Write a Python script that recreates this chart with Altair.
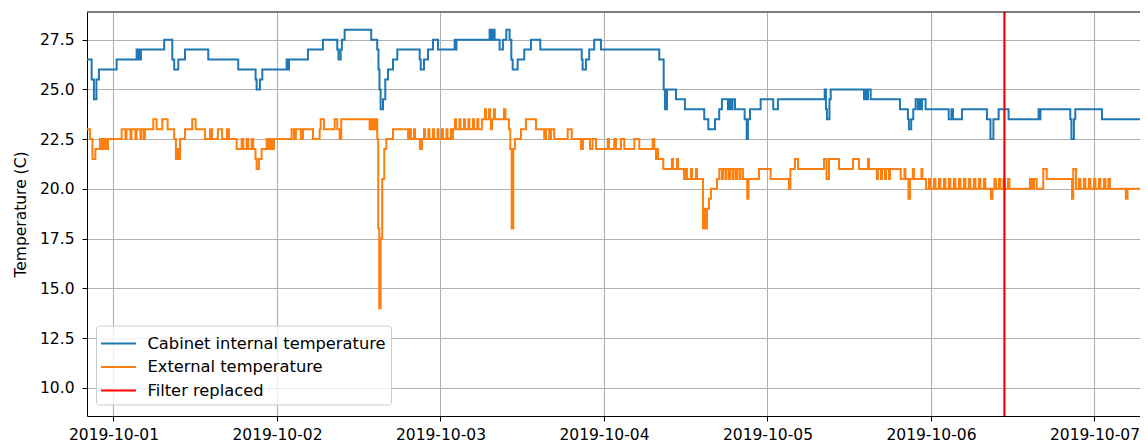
import altair as alt
import pandas as pd

# ---------------- data (minutes after 2019-10-01 00:00, temperature in C) -------------
cab_min = [
    -242, -192, -172, -150, -128, 28, 204, 216, 225, 233,
    242, 447, 518, 535, 571, 630, 835, 1099, 1252, 1261,
    1290, 1311, 1525, 1537, 1546, 1713, 1845, 1971, 1982, 2001,
    2012, 2036, 2270, 2323, 2334, 2343, 2353, 2374, 2394, 2418,
    2462, 2500, 2697, 2706, 2735, 2770, 2814, 2858, 3005, 3012,
    3021, 3313, 3329, 3342, 3357, 3401, 3430, 3460, 3489, 3504,
    3516, 3560, 3618, 3677, 3759, 4124, 4132, 4161, 4190, 4234,
    4294, 4807, 4846, 4857, 4875, 4954, 5033, 5203, 5239, 5298,
    5335, 5359, 5412, 5425, 5438, 5452, 5474, 5559, 5577, 5588,
    5606, 5700, 5811, 5852, 6264, 6275, 6284, 6306, 6317, 6610,
    6619, 6632, 6645, 6669, 6927, 6997, 7006, 7026, 7044, 7065,
    7085, 7099, 7112, 7121, 7153, 7356, 7380, 7394, 7473, 7693,
    7724, 7750, 7796, 7884, 8148, 8156, 8164, 8427, 8437, 8459,
    8471, 8706, 9129,
]
cab_val = [
    26.5, 25.5, 24.5, 25.5, 26.0, 26.5, 27.0, 26.5, 27.0, 26.5,
    27.0, 27.5, 26.5, 26.0, 26.5, 27.0, 26.5, 26.0, 25.5, 25.0,
    25.5, 26.0, 26.5, 26.0, 26.5, 27.0, 27.5, 27.0, 26.5, 27.0,
    27.5, 28.0, 27.5, 27.0, 26.0, 25.0, 24.0, 24.5, 25.5, 26.0,
    26.5, 27.0, 26.5, 26.0, 26.5, 27.0, 27.5, 27.0, 27.5, 27.0,
    27.5, 28.0, 27.5, 28.0, 27.5, 27.0, 27.5, 28.0, 27.5, 26.5,
    26.0, 26.5, 27.0, 27.5, 27.0, 26.5, 26.0, 26.5, 27.0, 27.5,
    27.0, 26.5, 25.0, 24.0, 25.0, 24.5, 24.0, 23.5, 23.0, 23.5,
    24.0, 24.5, 24.0, 24.5, 24.0, 24.5, 24.0, 23.5, 22.5, 23.5,
    24.0, 24.5, 24.0, 24.5, 25.0, 24.0, 23.5, 24.5, 25.0, 24.5,
    25.0, 24.5, 25.0, 24.5, 24.0, 23.5, 23.0, 23.5, 24.0, 24.5,
    24.0, 24.5, 24.0, 24.5, 24.0, 23.5, 24.0, 23.5, 24.0, 23.5,
    22.5, 23.5, 24.0, 23.5, 24.0, 23.5, 24.0, 23.5, 22.5, 23.5,
    24.0, 23.5, 23.5,
]

ext_min = [
    -242, -207, -185, -159, -119, -101, -84, -66, -48, 72,
    106, 115, 150, 159, 194, 203, 238, 247, 269, 277,
    351, 380, 430, 477, 535, 550, 564, 577, 586, 630,
    694, 724, 806, 850, 868, 920, 956, 1000, 1017, 1085,
    1129, 1143, 1173, 1187, 1217, 1231, 1251, 1261, 1281, 1305,
    1349, 1365, 1378, 1396, 1414, 1569, 1590, 1607, 1651, 1669,
    1757, 1816, 1825, 1854, 1948, 1971, 1992, 2006, 2256, 2268,
    2281, 2294, 2307, 2316, 2323, 2332, 2341, 2353, 2367, 2385,
    2403, 2462, 2594, 2611, 2620, 2647, 2656, 2699, 2717, 2735,
    2744, 2774, 2783, 2814, 2823, 2854, 2863, 2893, 2902, 2933,
    2942, 2972, 2981, 2990, 3008, 3017, 3047, 3056, 3087, 3096,
    3126, 3135, 3166, 3175, 3205, 3214, 3245, 3272, 3281, 3307,
    3316, 3325, 3334, 3351, 3360, 3439, 3452, 3483, 3495, 3507,
    3521, 3536, 3589, 3633, 3721, 3794, 3809, 3838, 3853, 3882,
    4000, 4036, 4117, 4135, 4197, 4220, 4250, 4353, 4364, 4411,
    4426, 4470, 4499, 4587, 4631, 4749, 4763, 4778, 4787, 4796,
    4842, 4919, 4928, 4963, 4972, 5025, 5042, 5051, 5086, 5095,
    5130, 5139, 5192, 5205, 5214, 5227, 5245, 5262, 5315, 5336,
    5359, 5368, 5390, 5399, 5421, 5430, 5452, 5461, 5482, 5491,
    5513, 5522, 5544, 5582, 5593, 5685, 5788, 5949, 5962, 6002,
    6029, 6258, 6280, 6302, 6390, 6513, 6566, 6645, 6654, 6724,
    6733, 6760, 6769, 6795, 6804, 6830, 6839, 6933, 6967, 6975,
    7002, 7015, 7041, 7050, 7116, 7125, 7156, 7182, 7195, 7226,
    7239, 7270, 7283, 7314, 7327, 7358, 7371, 7402, 7415, 7446,
    7459, 7490, 7503, 7534, 7547, 7578, 7591, 7622, 7635, 7666,
    7679, 7728, 7742, 7759, 7772, 7799, 7812, 7838, 7851, 7878,
    7891, 8072, 8090, 8107, 8131, 8189, 8219, 8442, 8453, 8477,
    8503, 8516, 8547, 8560, 8591, 8604, 8635, 8648, 8679, 8692,
    8723, 8736, 8763, 8776, 8917, 8931, 9129,
]
ext_val = [
    23.0, 22.5, 21.5, 22.0, 22.5, 22.0, 22.5, 22.0, 22.5, 23.0,
    22.5, 23.0, 22.5, 23.0, 22.5, 23.0, 22.5, 23.0, 22.5, 23.0,
    23.5, 23.0, 23.5, 23.0, 22.5, 21.5, 22.0, 21.5, 22.5, 23.0,
    23.5, 23.0, 22.5, 23.0, 22.5, 23.0, 22.5, 23.0, 22.5, 22.0,
    22.5, 22.0, 22.5, 22.0, 22.5, 22.0, 21.5, 21.0, 21.5, 22.0,
    22.5, 22.0, 22.5, 22.0, 22.5, 23.0, 22.5, 23.0, 22.5, 23.0,
    22.5, 23.0, 23.5, 23.0, 23.5, 23.0, 22.5, 23.5, 23.0, 23.5,
    23.0, 23.5, 23.0, 23.5, 22.5, 18.0, 14.0, 17.5, 20.5, 22.0,
    22.5, 23.0, 22.5, 23.0, 22.5, 23.0, 22.5, 22.0, 22.5, 23.0,
    22.5, 23.0, 22.5, 23.0, 22.5, 23.0, 22.5, 23.0, 22.5, 23.0,
    22.5, 23.0, 22.5, 23.0, 23.5, 23.0, 23.5, 23.0, 23.5, 23.0,
    23.5, 23.0, 23.5, 23.0, 23.5, 23.0, 23.5, 24.0, 23.5, 24.0,
    23.5, 23.0, 23.5, 24.0, 23.5, 24.0, 23.5, 23.0, 22.0, 18.0,
    22.0, 22.5, 23.0, 23.5, 23.0, 22.5, 23.0, 22.5, 23.0, 22.5,
    23.0, 22.5, 22.0, 22.5, 22.0, 22.5, 22.0, 22.5, 22.0, 22.5,
    22.0, 22.5, 22.0, 22.5, 22.0, 22.5, 22.0, 21.5, 22.0, 21.5,
    21.0, 21.5, 21.0, 21.5, 21.0, 20.5, 21.0, 20.5, 21.0, 20.5,
    21.0, 20.5, 18.0, 19.0, 18.0, 19.0, 19.5, 20.0, 20.5, 21.0,
    20.5, 21.0, 20.5, 21.0, 20.5, 21.0, 20.5, 21.0, 20.5, 21.0,
    20.5, 21.0, 20.5, 19.5, 20.5, 21.0, 20.5, 20.0, 21.0, 21.5,
    21.0, 21.5, 20.5, 21.5, 21.0, 21.5, 21.0, 21.5, 21.0, 20.5,
    21.0, 20.5, 21.0, 20.5, 21.0, 20.5, 21.0, 20.5, 21.0, 20.5,
    19.5, 20.5, 21.0, 20.5, 21.0, 20.5, 20.0, 20.5, 20.0, 20.5,
    20.0, 20.5, 20.0, 20.5, 20.0, 20.5, 20.0, 20.5, 20.0, 20.5,
    20.0, 20.5, 20.0, 20.5, 20.0, 20.5, 20.0, 20.5, 20.0, 20.5,
    20.0, 19.5, 20.0, 20.5, 20.0, 20.5, 20.0, 20.5, 20.0, 20.5,
    20.0, 20.5, 20.0, 20.5, 20.0, 21.0, 20.5, 19.5, 21.0, 20.0,
    20.5, 20.0, 20.5, 20.0, 20.5, 20.0, 20.5, 20.0, 20.5, 20.0,
    20.5, 20.0, 20.5, 20.0, 19.5, 20.0, 20.0,
]

filter_time = "2019-10-06T10:47:00"

series_names = ["Cabinet internal temperature", "External temperature", "Filter replaced"]
series_colors = ["#1f77b4", "#ff7f0e", "#ff0000"]

x_tick_days = [1, 2, 3, 4, 5, 6, 7]
y_ticks = [10.0, 12.5, 15.0, 17.5, 20.0, 22.5, 25.0, 27.5]
y_domain = [8.58, 28.89]

# ---------------- build tables ----------------
base = pd.Timestamp("2019-10-01")


def stamps(mins):
    return [(base + pd.Timedelta(minutes=m)).strftime("%Y-%m-%dT%H:%M:%S") for m in mins]


df_lines = pd.concat([
    pd.DataFrame({"time": stamps(cab_min), "temp": cab_val, "series": series_names[0]}),
    pd.DataFrame({"time": stamps(ext_min), "temp": ext_val, "series": series_names[1]}),
], ignore_index=True)
df_rule = pd.DataFrame({"time": [filter_time], "series": [series_names[2]]})

W, H = 1053, 404
FONT = "DejaVu Sans"
FS = 15.5

x_scale = alt.Scale(domain=[alt.DateTime(year=2019, month=9, date=30, hours=20, minutes=7),
                            alt.DateTime(year=2019, month=10, date=7, hours=6, minutes=41)])
y_scale = alt.Scale(domain=y_domain, zero=False, nice=False)

x_axis = alt.Axis(
    values=[alt.DateTime(year=2019, month=10, date=d) for d in x_tick_days],
    format="%Y-%m-%d", title=None,
    labelFont=FONT, labelFontSize=FS, labelColor="#000000",
    labelPadding=6, labelFlush=False, labelOverlap=False,
    tickColor="#000000", tickSize=5, tickWidth=1,
    domainColor="#000000", domainWidth=1,
    grid=True, gridColor="#b0b0b0", gridWidth=1.1,
)
y_axis = alt.Axis(
    values=y_ticks, format=".1f", title="Temperature (C)",
    titleFont=FONT, titleFontSize=FS, titleFontWeight="normal", titleColor="#000000",
    titleAngle=270, titleX=-67, titleY=H / 2, titleAlign="center", titleBaseline="middle",
    labelFont=FONT, labelFontSize=FS, labelColor="#000000", labelPadding=8,
    tickColor="#000000", tickSize=5, tickWidth=1,
    domainColor="#000000", domainWidth=1,
    grid=True, gridColor="#b0b0b0", gridWidth=1.1,
)

color = alt.Color(
    "series:N",
    scale=alt.Scale(domain=series_names, range=series_colors),
    legend=alt.Legend(
        title=None, orient="none", legendX=9, legendY=313.5,
        fillColor="rgba(255,255,255,0.8)", strokeColor="#cccccc", cornerRadius=3,
        padding=5, labelFont=FONT, labelFontSize=16.3, labelColor="#000000", labelLimit=0,
        symbolType="M-1.458,0L1.458,0", symbolSize=576, symbolStrokeWidth=2,
        symbolOffset=4.5, labelOffset=16, rowPadding=1.5,
    ),
)

lines = alt.Chart(df_lines).mark_line(interpolate="step-after", strokeWidth=2, clip=True).encode(
    x=alt.X("time:T", scale=x_scale, axis=x_axis),
    y=alt.Y("temp:Q", scale=y_scale, axis=y_axis),
    color=color,
)

rule = alt.Chart(df_rule).mark_rule(strokeWidth=2.2).encode(
    x=alt.X("time:T"),
    color=alt.Color("series:N"),
)

top_spine = alt.Chart(df_rule).mark_rule(color="#000000", strokeWidth=1).encode(
    x=alt.value(0), x2=alt.value(W), y=alt.value(0),
)

chart = alt.layer(lines, rule, top_spine).properties(
    width=W, height=H,
    autosize=alt.AutoSizeParams(type="none"),
    padding={"left": 79, "top": 4, "right": 0, "bottom": 28},
).configure_view(stroke=None)

chart.save("out.html", embed_options={"renderer": "svg", "actions": False})
